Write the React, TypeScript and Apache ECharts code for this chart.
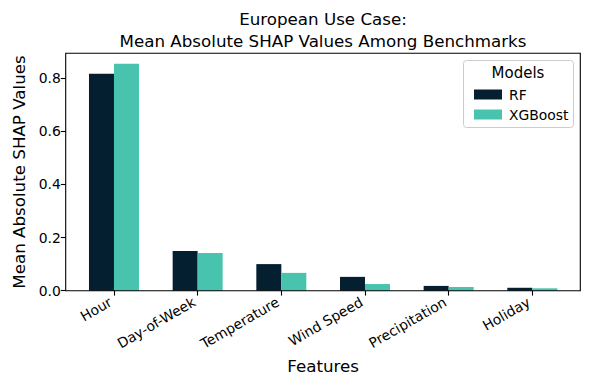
import React, { useEffect, useRef } from "react";
import * as echarts from "echarts";

const categories = ["Hour", "Day-of-Week", "Temperature", "Wind Speed", "Precipitation", "Holiday"];
const rfValues = [0.816, 0.149, 0.1, 0.052, 0.018, 0.011];
const xgbValues = [0.853, 0.142, 0.067, 0.025, 0.014, 0.009];
const yTicks = [0, 0.2, 0.4, 0.6, 0.8];
const seriesNames = ["RF", "XGBoost"];
const titleLines = ["European Use Case:", "Mean Absolute SHAP Values Among Benchmarks"];

const FONT = "DejaVu Sans";
const RF_COLOR = "#041f30";
const XGB_COLOR = "#48c4ae";

export default function App() {
  const ref = useRef<HTMLDivElement>(null);
  useEffect(() => {
    document.body.style.margin = "0";
    if (!ref.current) return;
    const chart = echarts.init(ref.current, undefined, { renderer: "svg" });
    chart.setOption({
      animation: false,
      backgroundColor: "#fff",
      textStyle: { fontFamily: FONT },
      grid: { left: 72.15, right: 15.85, top: 53.3, bottom: 99.3, containLabel: false },
      xAxis: {
        type: "category",
        data: categories,
        axisLine: { show: false },
        axisTick: { show: true, alignWithLabel: true, length: 4.9, lineStyle: { color: "#000", width: 1.1 } },
        axisLabel: {
          rotate: 30,
          margin: 8,
          padding: [0, 4, 0, 0],
          fontSize: 13.9,
          color: "#000",
          fontFamily: FONT,
          interval: 0,
        },
        name: "Features",
        nameLocation: "middle",
        nameGap: 66,
        nameTextStyle: { fontSize: 16.7, color: "#000", fontFamily: FONT },
      },
      yAxis: {
        type: "value",
        min: 0,
        max: 0.8925,
        interval: 0.2,
        offset: 6.45,
        splitLine: { show: false },
        axisLine: { show: false },
        axisTick: { show: true, length: 4.9, lineStyle: { color: "#000", width: 1.1 }, customValues: yTicks },
        axisLabel: {
          fontSize: 13.9,
          color: "#000",
          margin: 4.9,
          fontFamily: FONT,
          customValues: yTicks,
          formatter: (v: number) => v.toFixed(1),
        },
        name: "Mean Absolute SHAP Values",
        nameLocation: "middle",
        nameGap: 35,
        nameTextStyle: { fontSize: 16.7, color: "#000", fontFamily: FONT },
      },
      legend: {
        data: seriesNames,
        orient: "vertical",
        left: 469,
        top: 82,
        itemWidth: 28,
        itemHeight: 10,
        itemGap: 5,
        icon: "rect",
        textStyle: { fontSize: 13.9, color: "#000", fontFamily: FONT, padding: [0, 0, 0, 2], lineHeight: 15 },
      },
      series: [
        {
          name: seriesNames[0],
          type: "bar",
          data: rfValues,
          barWidth: 25,
          barGap: "0%",
          itemStyle: { color: RF_COLOR },
        },
        {
          name: seriesNames[1],
          type: "bar",
          data: xgbValues,
          barWidth: 25,
          barGap: "0%",
          itemStyle: { color: XGB_COLOR },
        },
      ],
      graphic: [
        {
          type: "rect",
          z: 100,
          silent: true,
          shape: { x: 65.7, y: 53.3, width: 514.6, height: 237.4 },
          style: { fill: "none", stroke: "#000", lineWidth: 1.1 },
        },
        {
          type: "rect",
          z: 0,
          silent: true,
          shape: { x: 463.5, y: 60.5, width: 110, height: 67, r: 3 },
          style: { fill: "rgba(255,255,255,0.8)", stroke: "#cccccc", lineWidth: 1 },
        },
        {
          type: "text",
          x: 518,
          y: 73,
          style: { text: "Models", fontSize: 15, fontFamily: FONT, fill: "#000", align: "center", verticalAlign: "middle" },
        },
        {
          type: "text",
          x: 323,
          y: 18.5,
          style: { text: titleLines[0], fontSize: 16.7, fontFamily: FONT, fill: "#000", align: "center", verticalAlign: "middle" },
        },
        {
          type: "text",
          x: 323,
          y: 40.5,
          style: { text: titleLines[1], fontSize: 16.7, fontFamily: FONT, fill: "#000", align: "center", verticalAlign: "middle" },
        },
      ],
    });
    return () => chart.dispose();
  }, []);
  return <div ref={ref} style={{ width: 590, height: 390 }} />;
}
